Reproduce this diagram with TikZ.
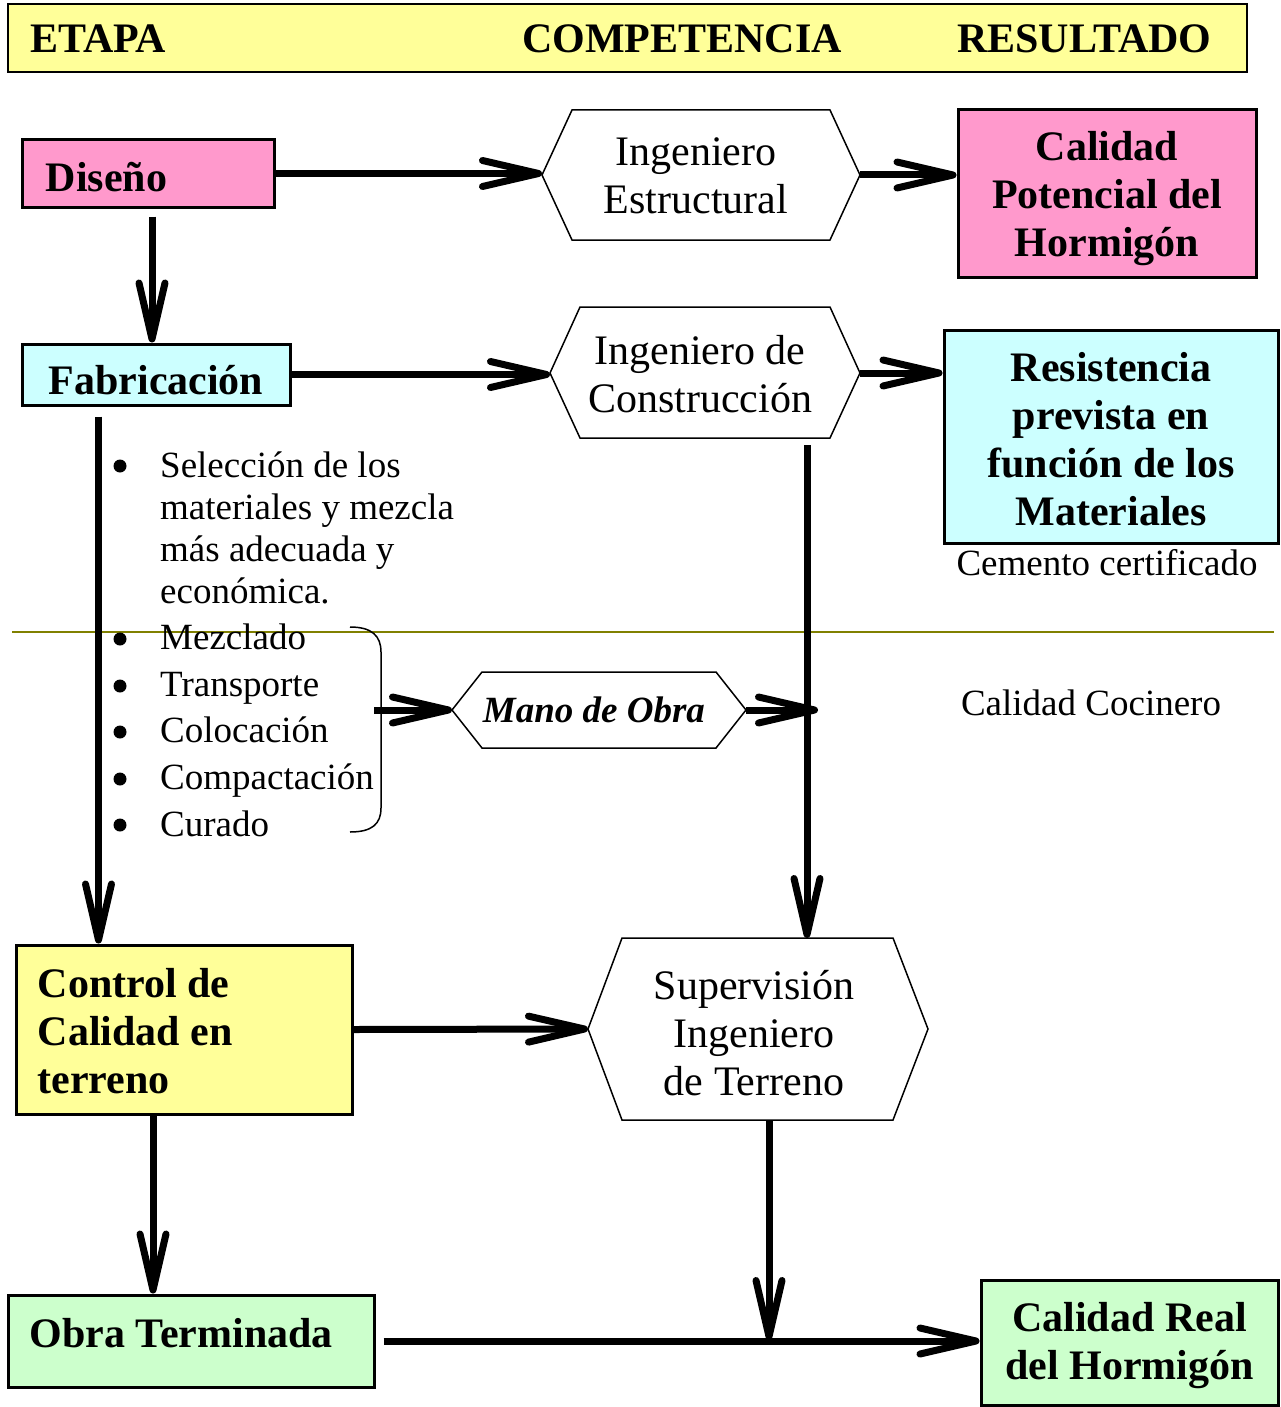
\documentclass[tikz,border=0pt]{standalone}
\usepackage{fontspec}
\setmainfont{Liberation Serif}
\usetikzlibrary{arrows.meta}
\definecolor{boxyellow}{HTML}{FFFF99}
\definecolor{boxpink}{HTML}{FF99CC}
\definecolor{boxcyan}{HTML}{CCFFFF}
\definecolor{boxgreen}{HTML}{CCFFCC}
\definecolor{oliveline}{HTML}{808000}
\begin{document}
\begin{tikzpicture}[x=1pt,y=-1pt,
  bigr/.style={font=\fontsize{42}{48}\selectfont},
  bigb/.style={font=\fontsize{42}{48}\selectfont\bfseries},
  smallr/.style={font=\fontsize{37}{42}\selectfont},
  box/.style={draw=black, line width=3pt, inner sep=0pt},
  hexline/.style={draw=black, line width=1.5pt, fill=white},
  plain/.style={inner sep=0pt},
  dot/.style={circle, fill=black, inner sep=0pt, minimum size=13pt},
  arr/.style={line width=7pt, -{Straight Barb[length=56pt,width=26pt,line width=7pt,round]}},
]
\useasboundingbox (0,0) rectangle (1281,1407);

% separator line
\coordinate (sepL) at (12,632);
\coordinate (sepR) at (1274,632);
\draw[oliveline, line width=2pt] (sepL) -- (sepR);

% header
\node[draw=black, line width=2pt, fill=boxyellow, minimum width=1239pt, minimum height=68pt, inner sep=0pt] (head) at (627.5,38) {};
\node[bigb, plain, anchor=base west] (h1) at (30,53) {ETAPA};
\node[bigb, plain, anchor=base west] (h2) at (522,53) {COMPETENCIA};
\node[bigb, plain, anchor=base west] (h3) at (957,53) {RESULTADO};

% boxes
\node[box, fill=boxpink, minimum width=252pt, minimum height=67pt] (dis) at (148,173.5) {};
\node[box, fill=boxcyan, minimum width=268pt, minimum height=61pt] (fab) at (156,374.5) {};
\node[box, fill=boxpink, minimum width=298pt, minimum height=167pt] (cp) at (1107,193.5) {};
\node[box, fill=boxcyan, minimum width=334pt, minimum height=213pt] (res) at (1111,436.5) {};
\node[box, fill=boxyellow, minimum width=336pt, minimum height=169pt] (ctrl) at (184,1029.5) {};
\node[box, fill=boxgreen, minimum width=366pt, minimum height=92pt] (obra) at (191,1341) {};
\node[box, fill=boxgreen, minimum width=297pt, minimum height=125pt] (cr) at (1129.5,1342.5) {};

% box texts
\node[bigb, plain, anchor=west] (disT) at ([xshift=25pt,yshift=-4pt]dis.west) {Diseño};
\node[bigb, plain] (fabT) at ([yshift=-6pt]fab.center) {Fabricación};
\node[bigb, plain, align=center] (cpT) at ([yshift=-5pt]cp.center) {Calidad\\Potencial del\\Hormigón};
\node[bigb, plain, align=center] (resT) at ([yshift=-3pt]res.center) {Resistencia\\prevista en\\función de los\\Materiales};
\node[bigb, plain, align=left, anchor=west] (ctrlT) at ([xshift=23pt,yshift=-2pt]ctrl.west) {Control de\\Calidad en\\terreno};
\node[bigb, plain, anchor=west] (obraT) at ([xshift=23pt,yshift=8pt]obra.west) {Obra Terminada};
\node[bigb, plain, align=center] (crT) at ([yshift=-3pt]cr.center) {Calidad Real\\del Hormigón};

% hexagon tips and junctions
\coordinate (ieL) at (542,175);
\coordinate (ieR) at (860,175);
\coordinate (icL) at (550,373);
\coordinate (icR) at (860,373);
\coordinate (icB) at (807,438);
\coordinate (moL) at (452,710);
\coordinate (moR) at (746,710);
\coordinate (suL) at (588,1029);
\coordinate (suR) at (928,1029);
\coordinate (suT) at (807,938);
\coordinate (suB) at (769,1120);
\coordinate (j1) at (818,710);
\coordinate (j2) at (769,1340);
\coordinate (brA) at (374,710);

% connectors
\draw[arr] (dis.east) -- (ieL |- dis.east);
\draw[arr] (ieR) -- (ieR -| cp.west);
\draw[arr] ([xshift=4pt,yshift=-8pt]dis.south) -- ([xshift=-4pt]fab.north);
\draw[arr] (fab.east) -- (icL |- fab.east);
\draw[arr] (icR) -- (icR -| res.west);
\draw[arr] ([xshift=78pt,yshift=-10pt]fab.south west) -- ([xshift=84pt]ctrl.north west);
\draw[arr] ([yshift=-7pt]icB) -- (suT);
\draw[arr] (brA) -- (moL);
\draw[arr] (moR) -- (j1);
\draw[arr] (ctrl.east) -- (suL);
\draw[arr] ([xshift=-31pt]ctrl.south) -- ([xshift=-38pt]obra.north);
\draw[arr] (suB) -- (j2);
\draw[arr] ([xshift=8pt]obra.east) -- (obra.east -| cr.west);

% hexagons
\draw[hexline] (ieL) -- (572,110) -- (830,110) -- (ieR) -- (830,240) -- (572,240) -- cycle;
\node[bigr, plain, align=center] (ie) at (696,176) {Ingeniero\\Estructural};
\draw[hexline] (icL) -- (580,307) -- (830,307) -- (icR) -- (830,438) -- (580,438) -- cycle;
\node[bigr, plain, align=center] (ic) at (700,374) {Ingeniero de\\Construcción};
\draw[hexline] (moL) -- (482,672) -- (716,672) -- (moR) -- (716,748) -- (482,748) -- cycle;
\node[plain, font=\fontsize{37}{42}\selectfont\bfseries\itshape] (mo) at (594,710) {Mano de Obra};
\draw[hexline] (suL) -- (622,938) -- (893,938) -- (suR) -- (893,1120) -- (622,1120) -- cycle;
\node[bigr, plain, align=center] (su) at (754,1033) {Supervisión\\Ingeniero\\de Terreno};

% texts
\node[smallr, plain, anchor=base] (cem) at (1107,575) {Cemento certificado};
\node[smallr, plain, anchor=base] (coc) at (1091,715) {Calidad Cocinero};

% bullet lists
\node[dot] (b1) at (120,466) {};
\node[smallr, plain, anchor=base west] (t1a) at (160,477) {Selección de los};
\node[smallr, plain, anchor=base west] (t1b) at (160,519) {materiales y mezcla};
\node[smallr, plain, anchor=base west] (t1c) at (160,561) {más adecuada y};
\node[smallr, plain, anchor=base west] (t1d) at (160,603) {económica.};
\node[dot] (b2) at (120,639) {};
\node[smallr, plain, anchor=base west] (t2) at (160,649) {Mezclado};
\node[dot] (b3) at (120,686) {};
\node[smallr, plain, anchor=base west] (t3) at (160,696) {Transporte};
\node[dot] (b4) at (120,732) {};
\node[smallr, plain, anchor=base west] (t4) at (160,742) {Colocación};
\node[dot] (b5) at (120,779) {};
\node[smallr, plain, anchor=base west] (t5) at (160,789) {Compactación};
\node[dot] (b6) at (120,825) {};
\node[smallr, plain, anchor=base west] (t6) at (160,836) {Curado};

% bracket
\coordinate (brTop) at (350,627);
\coordinate (brBot) at (350,832);
\draw[line width=1.5pt] (brTop) .. controls (372,627) and (381,636) .. (381,652) -- (381,808) .. controls (381,824) and (372,832) .. (brBot);
\end{tikzpicture}
\end{document}
